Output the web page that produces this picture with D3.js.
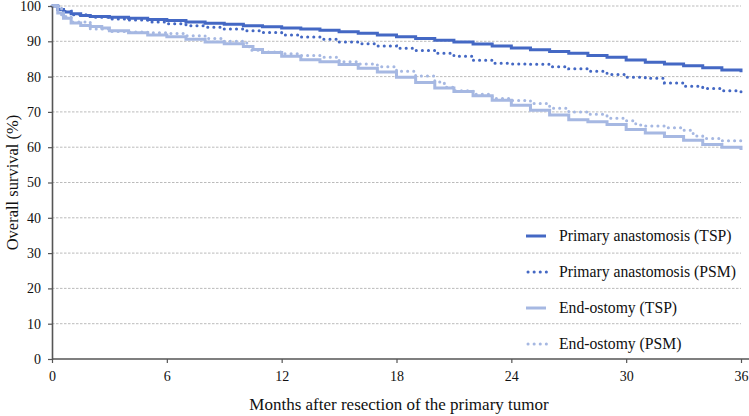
<!DOCTYPE html>
<html><head><meta charset="utf-8">
<script src="https://cdn.jsdelivr.net/npm/d3@7"></script>
<style>body{margin:0;background:#fff}svg{display:block}</style>
</head><body><svg id="c" width="749" height="416" font-family="'Liberation Serif', 'Times New Roman', 'DejaVu Serif', serif"></svg>
<script>
const xTicks = [0, 6, 12, 18, 24, 30, 36];
const yTicks = [0, 10, 20, 30, 40, 50, 60, 70, 80, 90, 100];

const paTspMonths = [0,0.3,0.6,1,1.5,2,3,4,5,6,7,8,9,10,11,12,13,14,15,16,17,18,19,20,21,22,23,24,25,26,27,28,29,30,31,32,33,34,35,36];
const paTspValues = [100,99,98.3,97.8,97.3,97,96.8,96.5,96.2,95.9,95.5,95.1,94.8,94.4,94.1,93.8,93.5,93.1,92.7,92.3,91.8,91.3,90.8,90.3,89.8,89.2,88.7,88.1,87.6,87.1,86.6,86,85.5,84.7,84.1,83.6,83.1,82.5,81.9,81.2];

const paPsmMonths = [0,0.5,1,2,3,4,5,6,7,8,9,10,11,12,13,14,15,16,17,18,19,20,21,22,23,24,25,26,27,28,29,30,31,32,33,34,35,36];
const paPsmValues = [100,98.5,97.5,96.8,96.3,96,95.5,95,94.4,94,93.5,93,92.5,91.8,91.2,90.6,89.8,89.3,88.7,88,87.4,86.6,85.8,84.6,83.8,83.6,83.5,82.8,82.2,81.5,80.6,79.8,79.5,78.2,77.3,76.6,76,75.1];

const eoTspMonths = [0,0.3,0.6,1,1.5,2,2.6,3,4,5,6,7,8,9,10,10.5,11,12,13,14,15,16,17,18,19,20,21,22,23,24,25,26,27,28,29,30,31,32,33,34,35,36];
const eoTspValues = [100,98,96.5,95.2,94.5,94.2,93.8,93,92.4,91.8,91.3,90.6,89.8,89.3,88.5,87.7,86.8,85.8,84.8,84.2,83.4,82.4,81.3,79.8,78.3,76.8,75.8,74.6,73.3,71.9,70.5,69.1,67.8,67.2,66.4,65,64,63,62,60.8,60,59.2];

const eoPsmMonths = [0,0.5,1,2,3,4,5,6,7,8,9,10,10.3,11,12,13,14,15,16,17,18,19,20,20.5,21,22,23,24,25,26,27,28,29,30,30.5,31,32,33,33.5,34,35,36];
const eoPsmValues = [100,97,95.5,93.5,92.8,92.6,92.4,92.2,91.6,90.8,90,89.5,87.5,87,86.5,86,85.5,84.2,83.6,82.8,81.5,80.2,78.5,77,76,75,73.8,73.2,72.4,71,70,69.3,68.2,67.5,66.3,66,65.5,64.8,63.2,62.5,61.8,61.3];

const seriesNames = ["Primary anastomosis (TSP)", "Primary anastomosis (PSM)", "End-ostomy (TSP)", "End-ostomy (PSM)"];

const dark = "#4468c4", light = "#a6b8e2";
const series = [
  {name: seriesNames[0], m: paTspMonths, v: paTspValues, color: dark, dotted: false},
  {name: seriesNames[1], m: paPsmMonths, v: paPsmValues, color: dark, dotted: true},
  {name: seriesNames[2], m: eoTspMonths, v: eoTspValues, color: light, dotted: false},
  {name: seriesNames[3], m: eoPsmMonths, v: eoPsmValues, color: light, dotted: true}
];

const FONT = "'Liberation Serif', 'Times New Roman', 'DejaVu Serif', serif";
const svg = d3.select("#c");
const L = 52, R = 741, T = 6, B = 359;
const x = d3.scaleLinear().domain([0, 36]).range([L, R]);
const y = d3.scaleLinear().domain([0, 100]).range([B, T]);

// grid
svg.append("g").selectAll("line").data(yTicks.filter(d => d > 0)).join("line")
  .attr("x1", L).attr("x2", R).attr("y1", d => y(d)).attr("y2", d => y(d))
  .attr("stroke", "#aaa").attr("stroke-width", 0.8).attr("stroke-dasharray", "2.5,1.5");

// lines
const line = d3.line().x(d => x(d[0])).y(d => y(d[1])).curve(d3.curveStepAfter);
series.forEach(s => {
  const pts = s.m.map((m, i) => [m, s.v[i]]);
  const p = svg.append("path").datum(pts).attr("d", line)
    .attr("fill", "none").attr("stroke", s.color).attr("stroke-width", 3);
  if (s.dotted) p.attr("stroke-dasharray", "0.1,6").attr("stroke-linecap", "round");
});

// axes
const ax = svg.append("g").attr("transform", `translate(0,${B})`)
  .call(d3.axisBottom(x).tickValues(xTicks).tickSize(4).tickSizeOuter(0).tickPadding(8));
const ay = svg.append("g").attr("transform", `translate(${L},0)`)
  .call(d3.axisLeft(y).tickValues(yTicks).tickSize(4).tickSizeOuter(0).tickPadding(7));
[ax, ay].forEach(g => {
  g.attr("font-family", FONT).attr("font-size", 14);
  g.select(".domain").attr("stroke", "#555").attr("stroke-width", 1.6);
  g.selectAll(".tick line").attr("stroke", "#555").attr("stroke-width", 1.2);
  g.selectAll(".tick text").attr("fill", "#111");
});
ax.select(".domain").attr("d", `M${L},0H${R+8}`);

// titles
svg.append("text").attr("x", 399).attr("y", 410).attr("text-anchor", "middle")
  .attr("font-family", FONT).attr("font-size", 17).attr("fill", "#111").text("Months after resection of the primary tumor");
svg.append("text").attr("transform", `translate(18,${(T + B) / 2}) rotate(-90)`).attr("text-anchor", "middle")
  .attr("font-family", FONT).attr("font-size", 16.5).attr("fill", "#111").text("Overall survival (%)");

// legend
const lg = svg.append("g");
series.forEach((s, i) => {
  const yy = 236 + i * 36;
  const ln = lg.append("line").attr("x1", 526).attr("x2", 546).attr("y1", yy).attr("y2", yy)
    .attr("stroke", s.color).attr("stroke-width", 3);
  if (s.dotted) ln.attr("stroke-dasharray", "0.1,6").attr("stroke-linecap", "round").attr("x1", 528).attr("x2", 548);
  lg.append("text").attr("x", 559).attr("y", yy).attr("dy", "0.35em")
    .attr("font-family", FONT).attr("font-size", 15.7).attr("fill", "#111").text(s.name);
});
</script></body></html>
